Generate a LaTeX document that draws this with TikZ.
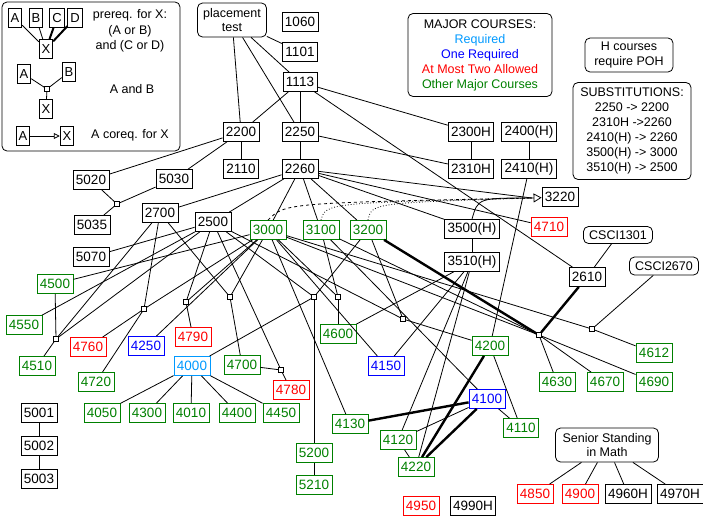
\documentclass[tikz,border=0pt]{standalone}
\usepackage{fontspec}
\setmainfont{Liberation Sans}
\usetikzlibrary{arrows.meta}

\definecolor{reqblue}{HTML}{0099FF}
\definecolor{mjgreen}{HTML}{008000}

\tikzset{
  crs/.style={draw,inner xsep=3pt,inner ysep=0pt,minimum height=19pt,font=\fontsize{13.5}{15}\selectfont},
  req/.style={crs,draw=reqblue,text=reqblue},
  onereq/.style={crs,draw=blue,text=blue},
  atmost/.style={crs,draw=red,text=red},
  other/.style={crs,draw=mjgreen,text=mjgreen},
  lbox/.style={draw,inner xsep=2.5pt,inner ysep=0pt,minimum height=19pt,font=\fontsize{13}{15}\selectfont},
  rbox/.style={draw,rounded corners=5pt,align=center,inner sep=0pt},
  jn/.style={draw,fill=white,minimum size=4.5pt,inner sep=0pt},
  heavy/.style={line width=2.4pt},
  coreq/.style={-{Triangle[open,length=8pt,width=9pt]}}
}

\begin{document}
\begin{tikzpicture}[x=1pt,y=-1pt,line width=0.8pt,font=\fontsize{12.5}{15}\selectfont]
  \useasboundingbox (0,0) rectangle (703,517);
  % legend
  \draw[rounded corners=5pt] (2,2) rectangle (180,151);
  \node[lbox] (lgA) at (15,18) {A}; \node[lbox] (lgB) at (36,18) {B};
  \node[lbox] (lgC) at (57,18) {C}; \node[lbox] (lgD) at (75,18) {D};
  \node[lbox] (lgX) at (46,49) {X};
  \draw (lgA) -- (lgX); \draw (lgB) -- (lgX);
  \draw[line width=2pt] (lgC) -- (lgX); \draw[line width=2pt] (lgD) -- (lgX);
  \node (lgT1) at (130,15) {prereq. for X:};
  \node (lgT2) at (130,31) {(A or B)};
  \node (lgT3) at (130,46) {and (C or D)};
  \node[lbox] (lgA2) at (24,74) {A}; \node[lbox] (lgB2) at (69,72) {B};
  \node[jn] (lgQ) at (47,89) {}; \node[lbox] (lgX2) at (46,109) {X};
  \draw (lgA2) -- (lgQ); \draw (lgB2) -- (lgQ); \draw (lgQ) -- (lgX2);
  \node (lgT4) at (132,89) {A and B};
  \node[lbox] (lgA3) at (23,136) {A}; \node[lbox] (lgX3) at (67,136) {X};
  \draw[-{Triangle[open,length=6pt,width=6pt]}] (lgA3) -- (lgX3);
  \node (lgT5) at (130,135) {A coreq. for X};

  \node[rbox,minimum width=144pt,minimum height=83pt] (lgMaj) at (480,55)
    {MAJOR COURSES:\\ \textcolor{reqblue}{Required}\\ \textcolor{blue}{One Required}\\
     \textcolor{red}{At Most Two Allowed}\\ \textcolor{mjgreen}{Other Major Courses}};
  \node[rbox,minimum width=88pt,minimum height=34pt] (lgPOH) at (629,55) {H courses\\ require POH};
  \node[rbox,minimum width=118pt,minimum height=97pt] (lgSub) at (632,131)
    {SUBSTITUTIONS:\\ 2250 -> 2200\\ 2310H ->2260\\ 2410(H) -> 2260\\ 3500(H) -> 3000\\ 3510(H) -> 2500};

  % courses
  \node[rbox,minimum width=69pt,minimum height=34pt,font=\fontsize{12.5}{14}\selectfont] (pt) at (232,20) {placement\\ test};
  \node[crs] (c1060) at (300,22) {1060};
  \node[crs] (c1101) at (300,52) {1101};
  \node[crs] (c1113) at (300,82) {1113};
  \node[crs] (c2200) at (241,132) {2200};
  \node[crs] (c2250) at (300,132) {2250};
  \node[crs] (c2110) at (241,169) {2110};
  \node[crs] (c2260) at (300,169) {2260};
  \node[crs] (c2300H) at (471,132) {2300H};
  \node[crs] (c2400H) at (529,132) {2400(H)};
  \node[crs] (c2310H) at (471,169) {2310H};
  \node[crs] (c2410H) at (529,169) {2410(H)};
  \node[crs] (c5020) at (91,180) {5020};
  \node[crs] (c5030) at (174,179) {5030};
  \node[crs] (c5035) at (92,225) {5035};
  \node[crs] (c2700) at (160,213) {2700};
  \node[crs] (c2500) at (213,222) {2500};
  \node[crs] (c5070) at (91,257) {5070};
  \node[other] (c3000) at (268,230) {3000};
  \node[other] (c3100) at (321,230) {3100};
  \node[other] (c3200) at (368,230) {3200};
  \node[crs] (c3500H) at (472,229) {3500(H)};
  \node[crs] (c3510H) at (472,262) {3510(H)};
  \node[crs] (c3220) at (560,197) {3220};
  \node[atmost] (c4710) at (549,227) {4710};
  \node[rbox,minimum width=69pt,minimum height=17pt] (cs1301) at (618,235) {CSCI1301};
  \node[rbox,minimum width=69pt,minimum height=18pt] (cs2670) at (664,266) {CSCI2670};
  \node[crs] (c2610) at (587,277) {2610};
  \node[other] (c4500) at (55,284) {4500};
  \node[other] (c4550) at (24,325) {4550};
  \node[other] (c4510) at (37,366) {4510};
  \node[atmost] (c4760) at (88,347) {4760};
  \node[onereq] (c4250) at (146,346) {4250};
  \node[atmost] (c4790) at (193,337) {4790};
  \node[req] (c4000) at (192,366) {4000};
  \node[other] (c4720) at (96,382) {4720};
  \node[other] (c4700) at (242,365) {4700};
  \node[atmost] (c4780) at (291,390) {4780};
  \node[other] (c4050) at (102,413) {4050};
  \node[other] (c4300) at (147,413) {4300};
  \node[other] (c4010) at (191,413) {4010};
  \node[other] (c4400) at (237,413) {4400};
  \node[other] (c4450) at (281,413) {4450};
  \node[crs] (c5001) at (39,413) {5001};
  \node[crs] (c5002) at (39,446) {5002};
  \node[crs] (c5003) at (39,479) {5003};
  \node[other] (c4600) at (338,334) {4600};
  \node[onereq] (c4150) at (386,366) {4150};
  \node[other] (c4200) at (490,346) {4200};
  \node[onereq] (c4100) at (487,399) {4100};
  \node[other] (c4130) at (350,424) {4130};
  \node[other] (c4110) at (521,428) {4110};
  \node[other] (c4120) at (398,440) {4120};
  \node[other] (c4220) at (416,467) {4220};
  \node[other] (c5200) at (314,453) {5200};
  \node[other] (c5210) at (314,485) {5210};
  \node[atmost] (c4950) at (421,506) {4950};
  \node[crs] (c4990H) at (473,506) {4990H};
  \node[rbox,minimum width=103pt,minimum height=34pt,font=\fontsize{12.5}{14}\selectfont] (senior) at (607,445) {Senior Standing\\ in Math};
  \node[atmost] (c4850) at (535,494) {4850};
  \node[atmost] (c4900) at (580,494) {4900};
  \node[crs] (c4960H) at (628,494) {4960H};
  \node[crs] (c4970H) at (680,494) {4970H};
  \node[other] (c4612) at (654,353) {4612};
  \node[other] (c4630) at (557,382) {4630};
  \node[other] (c4670) at (605,382) {4670};
  \node[other] (c4690) at (654,382) {4690};

  % and-junctions
  \node[jn] (q5035) at (117,204) {};
  \node[jn] (q4510) at (56,339) {};
  \node[jn] (q4760) at (144,309) {};
  \node[jn] (q4790) at (186,302) {};
  \node[jn] (q4700) at (230,297) {};
  \node[jn] (q4780) at (281,370) {};
  \node[jn] (q4000) at (314,297) {};
  \node[jn] (q4600) at (338,297) {};
  \node[jn] (q4200) at (403,319) {};
  \node[jn] (q4612) at (592,329) {};
  \node[jn] (q4630) at (539,335) {};
  \coordinate (j3220) at (532,198);

  % prerequisites
  \draw (pt) -- (c1101); \draw (pt) -- (c1113); \draw (pt) -- (c2250); \draw (pt) -- (c2200);
  \draw (c1113) -- (c2200); \draw (c1113) -- (c2250); \draw (c1113) -- (c2300H); \draw (c1113) -- (c2610);
  \draw (c2250) -- (c2260); \draw (c2250) -- (c2310H);
  \draw (c2200) -- (c2110); \draw (c2200) -- (c5020); \draw (c2200) -- (c5030);
  \draw (c2300H) -- (c2310H); \draw (c2400H) -- (c2410H);
  \draw (c5020) -- (q5035); \draw (c5030) -- (q5035); \draw (q5035) -- (c5035);
  \draw (c2260) -- (c2700); \draw (c2260) -- (c2500); \draw (c2260) -- (c3000);
  \draw (c2260) -- (c3100); \draw (c2260) -- (c3200); \draw (c2260) -- (c3500H);
  \draw (c2260) -- (c4710); \draw (c2260) -- (j3220);
  \draw (c3500H) -- (c3510H);
  \draw (c2500) -- (c5070); \draw (c2500) -- (c4550);
  \draw (c4500) -- (q4510); \draw (c2700) -- (q4510); \draw (c2500) -- (q4510); \draw (q4510) -- (c4510);
  \draw (c2700) -- (q4760); \draw (c3000) -- (q4760); \draw (q4760) -- (c4760); \draw (q4760) -- (c4720);
  \draw (c2500) -- (q4790); \draw (c3000) -- (q4790); \draw (q4790) -- (c4790);
  \draw (c2700) -- (q4700); \draw (c3000) -- (q4700); \draw (q4700) -- (c4700);
  \draw (c4700) -- (q4780); \draw (c2500) -- (q4780); \draw (q4780) -- (c4780);
  \draw (c2500) -- (q4000); \draw (c3200) -- (q4000); \draw (q4000) -- (c4000); \draw (q4000) -- (c5200);
  \draw (c3100) -- (q4600); \draw (c3000) -- (q4600); \draw (q4600) -- (c4600);
  \draw (c2500) -- (q4200); \draw (c3200) -- (q4200); \draw (q4200) -- (c4200);
  \draw (c3000) -- (q4612); \draw (cs2670) -- (q4612); \draw (q4612) -- (c4612);
  \draw[heavy] (c2610) -- (q4630); \draw[heavy] (c3200) -- (q4630);
  \draw (c3000) -- (q4630); \draw (c3100) -- (q4630);
  \draw (q4630) -- (c4630); \draw (q4630) -- (c4670); \draw (q4630) -- (c4690);
  \draw (c3000) -- (c4500); \draw (c3000) -- (c4250); \draw (c3000) -- (c4130); \draw (c3000) -- (c4150);
  \draw (c3510H) -- (c4600); \draw (c3510H) -- (c4150); \draw (c3510H) -- (c4120); \draw (c3510H) -- (c4220);
  \draw (c3100) -- (c4100); \draw (c2410H) -- (c4200);
  \draw[heavy] (c4200) -- (c4220); \draw (c4200) -- (c4110);
  \draw[heavy] (c4100) -- (c4130); \draw[heavy] (c4100) -- (c4220);
  \draw (c4100) -- (c4120); \draw (c4100) -- (c4110); \draw (c4120) -- (c4220);
  \draw (cs1301) -- (c2610);
  \draw (c4000) -- (c4050); \draw (c4000) -- (c4300); \draw (c4000) -- (c4010);
  \draw (c4000) -- (c4400); \draw (c4000) -- (c4450);
  \draw (c5001) -- (c5002); \draw (c5002) -- (c5003); \draw (c5200) -- (c5210);
  \draw (senior) -- (c4850); \draw (senior) -- (c4900); \draw (senior) -- (c4960H); \draw (senior) -- (c4970H);

  % corequisites of 3220
  \draw[dashed] (c3000.north) .. controls (285,203) .. (j3220);
  \draw[dotted] (c3100.north) .. controls (326,203) .. (j3220);
  \draw[dotted] (c3200.north) .. controls (372,203) .. (j3220);
  \draw (c3500H.north) .. controls (478,198) .. (j3220);
  \draw[coreq] (j3220) -- (c3220);
\end{tikzpicture}
\end{document}
